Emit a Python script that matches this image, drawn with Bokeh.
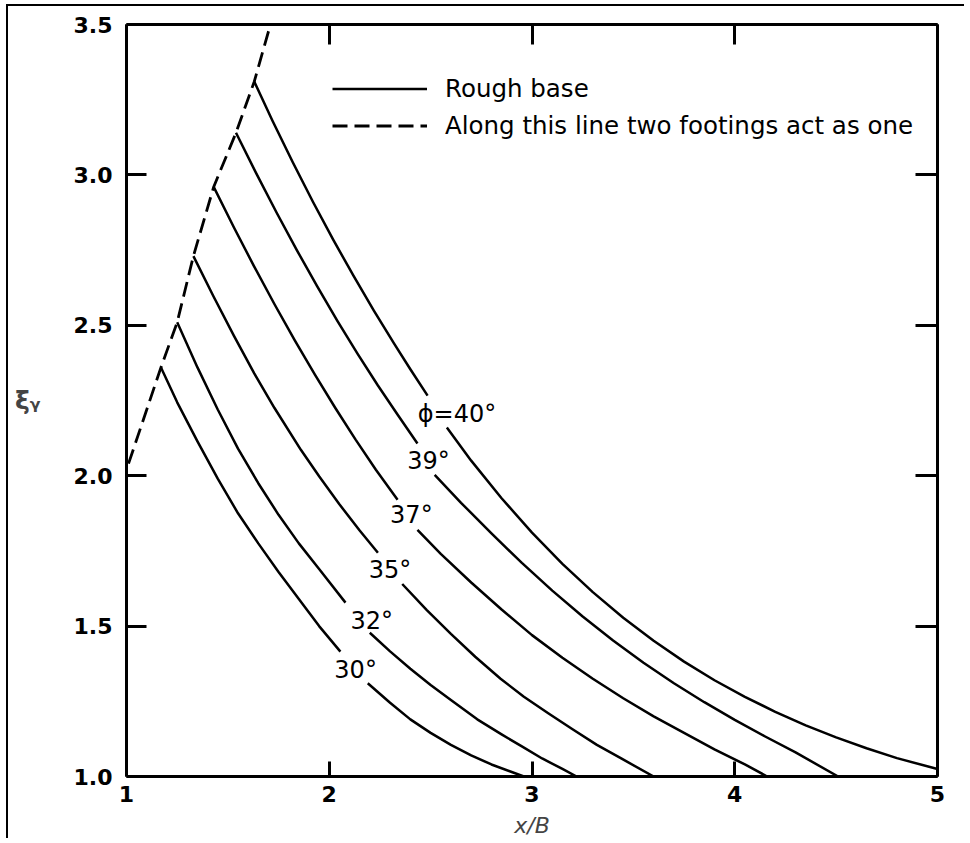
from bokeh.plotting import figure
from bokeh.models import (Range1d, LinearAxis, FixedTicker, Legend, LegendItem,
                          ColumnDataSource, PrintfTickFormatter)
from bokeh.core.properties import value
from bokeh.embed import file_html
from bokeh.resources import INLINE

# ---------------- data ----------------
x_ticks = [1, 2, 3, 4, 5]
y_ticks = [1.0, 1.5, 2.0, 2.5, 3.0, 3.5]

# dashed line: "two footings act as one"
dash_x = [1.01, 1.17, 1.25, 1.33, 1.43, 1.54, 1.63, 1.71]
dash_y = [2.04, 2.36, 2.51, 2.73, 2.96, 3.14, 3.31, 3.50]

# curves (each split in two parts around its label)
c30_ax = [1.17, 1.25, 1.35, 1.45, 1.55, 1.65, 1.75, 1.85, 1.95, 2.055]
c30_ay = [2.36, 2.244, 2.114, 1.99, 1.875, 1.775, 1.68, 1.59, 1.50, 1.415]
c30_bx = [2.19, 2.30, 2.40, 2.50, 2.60, 2.70, 2.80, 2.90, 2.96]
c30_by = [1.31, 1.245, 1.19, 1.145, 1.105, 1.07, 1.04, 1.015, 1.0]

c32_ax = [1.25, 1.35, 1.45, 1.55, 1.65, 1.75, 1.85, 1.95, 2.08]
c32_ay = [2.51, 2.36, 2.22, 2.09, 1.975, 1.87, 1.775, 1.69, 1.578]
c32_bx = [2.20, 2.30, 2.40, 2.50, 2.60, 2.73, 2.85, 2.95, 3.05, 3.15, 3.22]
c32_by = [1.478, 1.416, 1.358, 1.304, 1.254, 1.19, 1.14, 1.10, 1.06, 1.025, 1.0]

c35_ax = [1.33, 1.43, 1.53, 1.63, 1.73, 1.86, 1.95, 2.05, 2.15, 2.24]
c35_ay = [2.73, 2.595, 2.465, 2.34, 2.225, 2.086, 1.998, 1.905, 1.818, 1.744]
c35_bx = [2.36, 2.48, 2.60, 2.72, 2.845, 2.96, 3.08, 3.20, 3.32, 3.44, 3.60]
c35_by = [1.64, 1.554, 1.474, 1.398, 1.325, 1.265, 1.21, 1.157, 1.105, 1.06, 1.0]

c37_ax = [1.43, 1.53, 1.63, 1.73, 1.83, 1.93, 2.03, 2.13, 2.23, 2.337]
c37_ay = [2.96, 2.825, 2.695, 2.57, 2.45, 2.335, 2.225, 2.12, 2.02, 1.92]
c37_bx = [2.435, 2.55, 2.70, 2.85, 3.00, 3.15, 3.30, 3.45, 3.60, 3.75, 3.90, 4.05, 4.16]
c37_by = [1.82, 1.74, 1.645, 1.555, 1.47, 1.395, 1.325, 1.26, 1.20, 1.145, 1.09, 1.04, 1.0]

c39_ax = [1.54, 1.64, 1.74, 1.84, 1.94, 2.04, 2.14, 2.24, 2.34, 2.435]
c39_ay = [3.14, 3.005, 2.875, 2.75, 2.63, 2.515, 2.405, 2.30, 2.20, 2.107]
c39_bx = [2.52, 2.65, 2.80, 2.95, 3.10, 3.25, 3.40, 3.55, 3.70, 3.85, 4.00, 4.15, 4.30, 4.51]
c39_by = [2.003, 1.91, 1.808, 1.71, 1.618, 1.532, 1.452, 1.378, 1.31, 1.247, 1.188, 1.133, 1.08, 1.0]

c40_ax = [1.63, 1.72, 1.82, 1.92, 2.02, 2.12, 2.22, 2.32, 2.40, 2.485]
c40_ay = [3.31, 3.18, 3.042, 2.91, 2.784, 2.664, 2.549, 2.439, 2.354, 2.266]
c40_bx = [2.58, 2.70, 2.85, 3.00, 3.15, 3.30, 3.45, 3.60, 3.75, 3.90, 4.05, 4.20, 4.35, 4.50, 4.65, 4.80, 5.0]
c40_by = [2.16, 2.05, 1.925, 1.811, 1.707, 1.613, 1.528, 1.451, 1.382, 1.32, 1.265, 1.215, 1.17, 1.13, 1.094, 1.061, 1.025]

phi_labels = ["30°", "32°", "35°", "37°", "39°", "ϕ=40°"]
phi_lab_x = [2.13, 2.21, 2.30, 2.405, 2.49, 2.63]
phi_lab_y = [1.355, 1.518, 1.687, 1.87, 2.05, 2.205]

legend_labels = ["Rough base", "Along this line two footings act as one"]

# ---------------- figure ----------------
p = figure(width=958, height=834,
           x_range=Range1d(1, 5), y_range=Range1d(1, 3.5),
           output_backend="svg", toolbar_location=None,
           min_border_left=118, min_border_top=18,
           min_border_right=29, min_border_bottom=63,
           x_axis_label="x/B", y_axis_label="ξᵧ",
           styles={"border-left": "2px solid black", "border-top": "2px solid black",
                   "margin-left": "6px", "margin-top": "4px"})
p.grid.visible = False
p.outline_line_color = None
p.background_fill_color = "white"
p.border_fill_color = "white"

LW = 2.5
curves = [(c30_ax, c30_ay, c30_bx, c30_by), (c32_ax, c32_ay, c32_bx, c32_by),
          (c35_ax, c35_ay, c35_bx, c35_by), (c37_ax, c37_ay, c37_bx, c37_by),
          (c39_ax, c39_ay, c39_bx, c39_by), (c40_ax, c40_ay, c40_bx, c40_by)]
solid_renderers = []
for ax_, ay_, bx_, by_ in curves:
    ra = p.line(ax_, ay_, line_color="black", line_width=LW, line_join="round")
    rb = p.line(bx_, by_, line_color="black", line_width=LW, line_join="round")
    solid_renderers.append(ra)

r_dash = p.line(dash_x, dash_y, line_color="black", line_width=2.8, line_dash="15 7")

src = ColumnDataSource(dict(x=phi_lab_x, y=phi_lab_y, t=phi_labels))
p.text(x="x", y="y", text="t", source=src, text_font=value("DejaVu Sans"),
       text_font_size="24px", text_align="center", text_baseline="middle",
       text_color="black")

legend = Legend(items=[LegendItem(label=legend_labels[0], renderers=[solid_renderers[0]]),
                       LegendItem(label=legend_labels[1], renderers=[r_dash])],
                location=(206, 632), glyph_width=95, glyph_height=37, label_height=37,
                spacing=0, padding=0, margin=0, label_standoff=18,
                border_line_color=None, background_fill_alpha=0,
                label_text_font="DejaVu Sans", label_text_font_size="24.5px",
                label_text_color="black")
p.add_layout(legend)

# ---------------- axes ----------------
def style_axis(a, ticks, tick_len, show_labels):
    a.ticker = FixedTicker(ticks=ticks)
    a.major_tick_in = tick_len
    a.major_tick_out = 0
    a.minor_tick_in = 0
    a.minor_tick_out = 0
    a.axis_line_width = 3
    a.axis_line_color = "black"
    a.major_tick_line_width = 3
    a.major_tick_line_color = "black"
    if show_labels:
        a.major_label_text_font = "DejaVu Sans"
        a.major_label_text_font_style = "bold"
        a.major_label_text_font_size = "22px"
        a.major_label_text_color = "black"
    else:
        a.major_label_text_font_size = "0px"
        a.major_label_overrides = {t: "" for t in ticks}
        a.major_label_standoff = 0

xa = p.xaxis[0]
ya = p.yaxis[0]
style_axis(xa, x_ticks, 15, True)
style_axis(ya, y_ticks, 20, True)
ya.formatter = PrintfTickFormatter(format="%.1f")
xa.major_label_standoff = 9
ya.major_label_standoff = 14
xa.axis_label_text_font = "DejaVu Sans"
xa.axis_label_text_font_style = "italic"
xa.axis_label_text_font_size = "22px"
xa.axis_label_standoff = 8
ya.axis_label_text_font = "DejaVu Sans"
ya.axis_label_text_font_style = "bold"
ya.axis_label_text_font_size = "25px"
ya.axis_label_orientation = "horizontal"
ya.axis_label_standoff = 30

top = LinearAxis()
style_axis(top, x_ticks, 20, False)
p.add_layout(top, "above")
right = LinearAxis()
style_axis(right, y_ticks, 22, False)
p.add_layout(right, "right")

open("out.html", "w").write(file_html(p, INLINE))
